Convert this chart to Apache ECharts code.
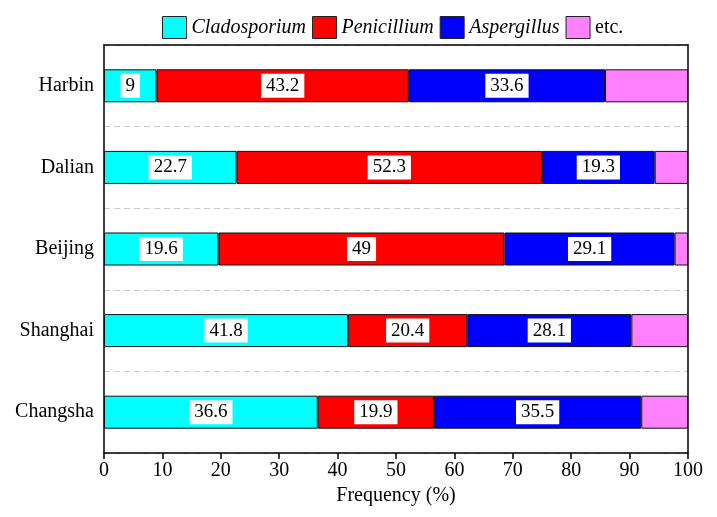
<!DOCTYPE html>
<html>
<head>
<meta charset="utf-8">
<script src="https://cdn.jsdelivr.net/npm/echarts@6/dist/echarts.min.js"></script>
<style>html,body{margin:0;padding:0;background:#fff;}#c{width:717px;height:517px;}</style>
</head>
<body>
<div id="c"></div>
<script>
var cities = ['Harbin', 'Dalian', 'Beijing', 'Shanghai', 'Changsha'];
var seriesNames = ['Cladosporium', 'Penicillium', 'Aspergillus', 'etc.'];
var cladosporium = [9, 22.7, 19.6, 41.8, 36.6];
var penicillium = [43.2, 52.3, 49, 20.4, 19.9];
var aspergillus = [33.6, 19.3, 29.1, 28.1, 35.5];
var etc = [14.2, 5.7, 2.3, 9.7, 8.0];
var xTicks = [0, 10, 20, 30, 40, 50, 60, 70, 80, 90, 100];

var colors = ['#00FFFF', '#FF0000', '#0000FF', '#FF80FF'];
var FONT = 'Liberation Serif';
var values = [cladosporium, penicillium, aspergillus, etc];

var series = seriesNames.map(function (n, i) {
  return {
    name: n,
    type: 'bar',
    stack: 'total',
    barWidth: 33,
    data: values[i],
    itemStyle: { color: colors[i], borderColor: '#111', borderWidth: 1 },
    label: {
      show: i < 3,
      position: 'inside',
      color: '#000',
      fontFamily: FONT,
      fontSize: 19,
      backgroundColor: '#fff',
      padding: [3, 5, 2, 5],
      formatter: function (p) { return String(p.value); }
    }
  };
});

function blackLine() { return { show: true, onZero: false, lineStyle: { color: '#000', width: 1.5 } }; }

var chart = echarts.init(document.getElementById('c'));
chart.setOption({
  animation: false,
  textStyle: { fontFamily: FONT },
  legend: {
    top: 11,
    left: 157,
    itemWidth: 24,
    itemHeight: 22,
    itemGap: 6,
    icon: 'rect',
    data: seriesNames,
    itemStyle: { borderColor: '#222', borderWidth: 1 },
    formatter: function (name) {
      if (name === 'etc.') return '{n|' + name + '}';
      if (name === 'Aspergillus') return '{a|' + name + '}';
      return '{i|' + name + '}';
    },
    textStyle: {
      fontFamily: FONT,
      fontSize: 20,
      color: '#000',
      rich: {
        i: { fontFamily: FONT, fontSize: 20, fontStyle: 'italic', color: '#000' },
        a: { fontFamily: FONT, fontSize: 20, fontStyle: 'italic', color: '#000', padding: [0, 10, 0, 0] },
        n: { fontFamily: FONT, fontSize: 20, color: '#000' }
      }
    }
  },
  grid: {
    left: 104, right: 29, top: 45, bottom: 64
  },
  xAxis: [{
    type: 'value',
    min: 0, max: 100, interval: 10,
    name: 'Frequency (%)',
    nameLocation: 'middle',
    nameGap: 31,
    nameTextStyle: { fontFamily: FONT, fontSize: 20, color: '#000' },
    axisLine: blackLine(),
    axisTick: { show: true, length: 6, lineStyle: { color: '#000', width: 1.5 } },
    axisLabel: {
      fontFamily: FONT, fontSize: 20, color: '#000', margin: 8,
      formatter: function (v) { return xTicks.indexOf(v) >= 0 ? String(v) : ''; }
    },
    splitLine: { show: false }
  }, {
    type: 'value',
    position: 'top',
    min: 0, max: 100, interval: 10,
    axisLine: blackLine(),
    axisTick: { show: false },
    axisLabel: { show: false },
    splitLine: { show: false }
  }],
  yAxis: [{
    type: 'category',
    inverse: true,
    data: cities,
    axisLine: blackLine(),
    axisTick: { show: false },
    axisLabel: { fontFamily: FONT, fontSize: 20, color: '#000', margin: 10 },
    splitLine: { show: true, lineStyle: { color: '#ccc', type: [6, 4], width: 1 } }
  }, {
    type: 'category',
    position: 'right',
    inverse: true,
    data: cities,
    axisLine: blackLine(),
    axisTick: { show: false },
    axisLabel: { show: false },
    splitLine: { show: false }
  }],
  series: series
});
</script>
</body>
</html>
